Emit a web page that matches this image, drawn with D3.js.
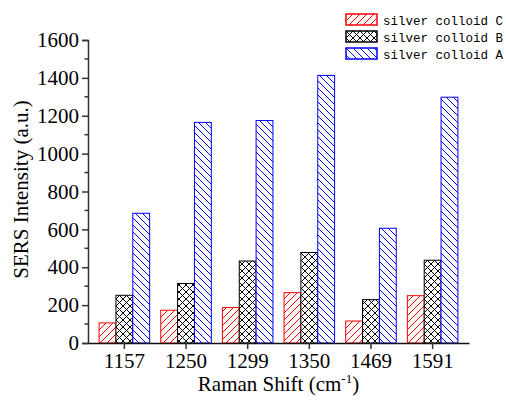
<!DOCTYPE html>
<html>
<head>
<meta charset="utf-8">
<script src="https://cdn.jsdelivr.net/npm/d3@7"></script>
<style>
  body { margin: 0; background: #fff; }
  svg { display: block; }
  .ax text { font-family: "Liberation Serif", "Times New Roman", serif; font-size: 21px; fill: #000; }
</style>
</head>
<body>
<div id="chart"></div>
<script>
// chart size
var svgWidth = 506;
var svgHeight = 401;

// data
var shifts = ["1157", "1250", "1299", "1350", "1469", "1591"];
var seriesNames = ["silver colloid C", "silver colloid B", "silver colloid A"];
var colloidC = [106, 173, 187, 266, 116, 250];
var colloidB = [252, 314, 433, 478, 229, 437];
var colloidA = [685, 1165, 1175, 1413, 606, 1298];
var yTicks = [0, 200, 400, 600, 800, 1000, 1200, 1400, 1600];

var margin = {left: 88, top: 40, right: 37, bottom: 58};
var plotW = svgWidth - margin.left - margin.right;
var plotH = svgHeight - margin.top - margin.bottom;

var svg = d3.select('#chart')
  .append('svg')
  .attr('width', svgWidth)
  .attr('height', svgHeight);

// hatch patterns
var defs = svg.append('defs');
function hatch(id, color, dirs) {
  var p = defs.append('pattern')
    .attr('id', id)
    .attr('patternUnits', 'userSpaceOnUse')
    .attr('width', 7).attr('height', 7);
  p.append('rect').attr('width', 7).attr('height', 7).attr('fill', '#fff');
  dirs.forEach(function(d) {
    var path = d === '/' ? 'M-1,1 l2,-2 M0,7 l7,-7 M6,8 l2,-2'
                         : 'M-1,6 l2,2 M0,0 l7,7 M6,-1 l2,2';
    p.append('path').attr('d', path)
      .attr('stroke', color).attr('stroke-width', 1);
  });
}
hatch('hC', '#ff0000', ['/']);
hatch('hB', '#000000', ['/', '\\']);
hatch('hA', '#0000ff', ['\\']);

var colors = ['#ff0000', '#000000', '#0000ff'];
var fills = ['url(#hC)', 'url(#hB)', 'url(#hA)'];
var allSeries = [colloidC, colloidB, colloidA];

var g = svg.append('g')
  .attr('transform', 'translate(' + margin.left + ',' + margin.top + ')');

var x = d3.scaleBand().domain(shifts).range([0, plotW]).padding(0.18);
var xInner = d3.scaleBand().domain(d3.range(3)).range([0, x.bandwidth()]);
var y = d3.scaleLinear().domain([0, 1600]).range([plotH, 0]);

// bars
allSeries.forEach(function(vals, s) {
  g.selectAll('rect.s' + s)
    .data(vals)
    .enter()
    .append('rect')
    .attr('class', 's' + s)
    .attr('x', function(d, i) { return x(shifts[i]) + xInner(s); })
    .attr('y', function(d) { return y(d); })
    .attr('width', xInner.bandwidth())
    .attr('height', function(d) { return y(0) - y(d); })
    .attr('fill', fills[s])
    .attr('stroke', colors[s])
    .attr('stroke-width', 1);
});

var fontFam = '"Liberation Serif", "Times New Roman", serif';

// y axis
var yAxis = g.append('g')
  .attr('class', 'ax')
  .call(d3.axisLeft(y).tickValues(yTicks).tickFormat(d3.format('d')).tickSize(6).tickPadding(3));
yAxis.attr('font-family', fontFam).attr('font-size', 21);
yAxis.select('.domain').attr('stroke', '#333').attr('stroke-width', 1.5);
yAxis.selectAll('.tick line').attr('stroke', '#333').attr('stroke-width', 1.5);

// minor y ticks
g.append('g').selectAll('line')
  .data(yTicks.slice(0, -1).map(function(d) { return d + 100; }))
  .enter().append('line')
  .attr('x1', -3.5).attr('x2', 0)
  .attr('y1', function(d) { return y(d); })
  .attr('y2', function(d) { return y(d); })
  .attr('stroke', '#333').attr('stroke-width', 1.5);

// x axis
var xAxis = g.append('g')
  .attr('class', 'ax')
  .attr('transform', 'translate(0,' + plotH + ')')
  .call(d3.axisBottom(x).tickSize(6).tickSizeOuter(0).tickPadding(4));
xAxis.attr('font-family', fontFam).attr('font-size', 21);
xAxis.select('.domain').attr('stroke', '#111').attr('stroke-width', 1.5);
xAxis.selectAll('.tick line').attr('stroke', '#333').attr('stroke-width', 1.5);

// axis titles
var xt = svg.append('text')
  .attr('x', margin.left + plotW / 2)
  .attr('y', 391)
  .attr('text-anchor', 'middle')
  .style('font-family', fontFam).style('font-size', '21px');
xt.append('tspan').text('Raman Shift (cm');
xt.append('tspan').attr('dy', -8).style('font-size', '13px').text('-1');
xt.append('tspan').attr('dy', 8).text(')');

svg.append('text')
  .attr('transform', 'translate(28,' + (margin.top + plotH / 2 - 2) + ') rotate(-90)')
  .attr('text-anchor', 'middle')
  .style('font-family', fontFam).style('font-size', '21px')
  .text('SERS Intensity (a.u.)');

// legend
var legend = svg.append('g').attr('transform', 'translate(346,14)');
seriesNames.forEach(function(name, s) {
  var row = legend.append('g').attr('transform', 'translate(0,' + (s * 17) + ')');
  row.append('rect')
    .attr('x', 0).attr('y', 0).attr('width', 31).attr('height', 11)
    .attr('fill', fills[s]).attr('stroke', colors[s]).attr('stroke-width', 1.5);
  row.append('text')
    .attr('x', 37).attr('y', 10.5)
    .style('font-family', '"Liberation Mono", "DejaVu Sans Mono", monospace')
    .style('font-size', '12.5px')
    .text(name);
});
</script>
</body>
</html>
